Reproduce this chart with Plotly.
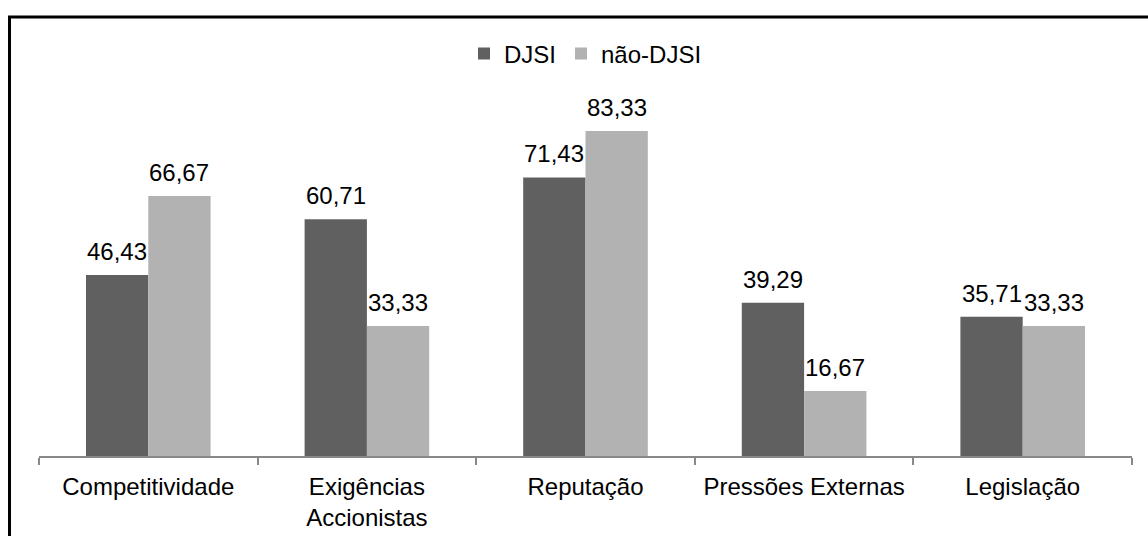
import plotly.graph_objects as go

categories = ["Competitividade", "Exigências<br>Accionistas", "Reputação",
              "Pressões Externas", "Legislação"]
djsi = [46.43, 60.71, 71.43, 39.29, 35.71]
nao_djsi = [66.67, 33.33, 83.33, 16.67, 33.33]

series = [("DJSI", djsi, "#606060"), ("não-DJSI", nao_djsi, "#b2b2b2")]

W, H = 1148, 536
L, R, T, B = 39, 16, 105, 80
FONT = "Liberation Sans, Arial, sans-serif"
FS = 24

fig = go.Figure()
for name, vals, color in series:
    fig.add_trace(go.Bar(x=categories, y=vals, name=name,
                         marker=dict(color=color, line=dict(width=0))))

# value labels above each bar
plot_w = W - L - R
bar_px = plot_w / len(categories) * (1 - 0.43) / 2
annotations = []
for k, (name, vals, color) in enumerate(series):
    shift = (k - 0.5) * bar_px
    for c, v in zip(categories, vals):
        annotations.append(dict(
            x=c, y=v, xref="x", yref="y", text=f"{v:.2f}".replace(".", ","),
            showarrow=False, xanchor="center", yanchor="bottom",
            xshift=shift, yshift=8,
            font=dict(family=FONT, size=FS, color="#000000")))

# outer frame (left and top edges visible)
plot_h = H - T - B
def px_x(p):
    return (p - L) / plot_w
def px_y(p):
    return (H - B - p) / plot_h

fig.update_layout(
    width=W, height=H,
    margin=dict(l=L, r=R, t=T, b=B, autoexpand=False),
    paper_bgcolor="white", plot_bgcolor="white",
    barmode="group", bargap=0.43, bargroupgap=0,
    font=dict(family=FONT, size=FS, color="#000000"),
    separators=",.",
    showlegend=True,
    legend=dict(orientation="h", x=0.5, xanchor="center", y=px_y(54),
                yanchor="middle", font=dict(size=FS), traceorder="normal",
                itemwidth=30, bgcolor="rgba(0,0,0,0)"),
    annotations=annotations,
    shapes=[dict(type="rect", xref="paper", yref="paper",
                 x0=px_x(9.5), x1=px_x(1170), y0=px_y(17), y1=px_y(560),
                 line=dict(color="#000000", width=3), layer="above")],
    xaxis=dict(showline=True, linecolor="#888888", linewidth=1.5,
               ticks="outside", tickson="boundaries", ticklen=7,
               tickcolor="#888888", tickwidth=1.5, ticklabelstandoff=8,
               automargin=False,
               tickfont=dict(family=FONT, size=FS, color="#000000"),
               showgrid=False, zeroline=False),
    yaxis=dict(range=[0, 90], visible=False, showgrid=False, zeroline=False,
               automargin=False),
)

fig.write_html("out.html")
